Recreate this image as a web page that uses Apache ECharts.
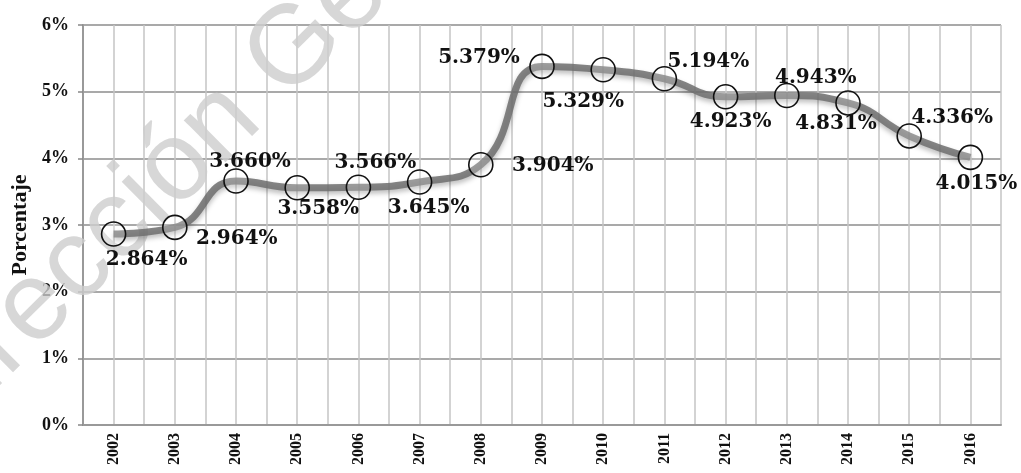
<!DOCTYPE html>
<html>
<head>
<meta charset="utf-8">
<script src="https://cdn.jsdelivr.net/npm/echarts@6/dist/echarts.min.js"></script>
<style>
  html, body { margin: 0; padding: 0; background: #fff; }
  #main { width: 1021px; height: 473px; }
</style>
</head>
<body>
<div id="main"></div>
<script>
// datos
const years = ['2002', '2003', '2004', '2005', '2006', '2007', '2008', '2009',
  '2010', '2011', '2012', '2013', '2014', '2015', '2016']
const porcentaje = [2.864, 2.964, 3.660, 3.558, 3.566, 3.645, 3.904, 5.379,
  5.329, 5.194, 4.923, 4.943, 4.831, 4.336, 4.015]
const yTicks = [0, 1, 2, 3, 4, 5, 6]

// desplazamiento de cada etiqueta respecto a su marcador
const labelOffsets = [
  [33, 26], [62, 11], [14, -19], [21, 21], [17, -24], [9, 26], [72, 1], [-63, -9],
  [-20, 32], [44, -17], [5, 25], [29, -18], [-12, 21], [43, -18], [6, 26]
]

const chart = echarts.init(document.getElementById('main'))

const seriesData = porcentaje.map(function (v, i) {
  return { value: v, label: { offset: labelOffsets[i] } }
})

const option = {
  backgroundColor: '#ffffff',
  animation: false,
  grid: { left: 83, right: 20, top: 25, bottom: 48 },
  graphic: [{
    type: 'text',
    z: 1,
    x: -50,
    y: 470,
    rotation: 0.78,
    style: {
      text: 'Dirección General',
      font: '112px "Liberation Sans", Arial, sans-serif',
      fill: 'rgba(205, 205, 205, 0.8)',
      textAlign: 'left',
      textVerticalAlign: 'bottom'
    }
  }],
  xAxis: [{
    type: 'category',
    data: years,
    boundaryGap: true,
    axisLine: { lineStyle: { color: '#999', width: 2 } },
    axisTick: { show: false },
    splitLine: { show: false },
    axisLabel: {
      rotate: 90,
      interval: 0,
      margin: 8,
      color: '#111',
      fontFamily: '"Liberation Serif", serif',
      fontWeight: 'bold',
      fontSize: 16
    }
  }, {
    // lineas verticales cada media categoria
    type: 'value',
    min: 0,
    max: years.length * 2,
    interval: 1,
    show: true,
    position: 'bottom',
    axisLine: { show: false },
    axisTick: { show: false },
    axisLabel: { show: false },
    splitLine: { show: true, lineStyle: { color: '#c4c4c4', width: 1.5 } }
  }],
  yAxis: {
    type: 'value',
    min: yTicks[0],
    max: yTicks[yTicks.length - 1],
    interval: 1,
    name: 'Porcentaje',
    nameLocation: 'middle',
    nameGap: 52,
    nameTextStyle: {
      color: '#111',
      fontFamily: '"Liberation Serif", serif',
      fontWeight: 'bold',
      fontSize: 22
    },
    axisLine: { show: true, lineStyle: { color: '#999', width: 2 } },
    axisTick: { show: true, length: 5, lineStyle: { color: '#888', width: 1.5 } },
    splitLine: { show: true, lineStyle: { color: '#8c8c8c', width: 1.5 } },
    axisLabel: {
      formatter: '{value}%',
      margin: 14,
      color: '#111',
      fontFamily: '"Liberation Serif", serif',
      fontWeight: 'bold',
      fontSize: 18
    }
  },
  series: [{
    type: 'line',
    xAxisIndex: 0,
    data: seriesData,
    smooth: 0.5,
    z: 3,
    symbol: 'circle',
    symbolSize: 24,
    lineStyle: {
      color: 'rgba(110, 110, 110, 0.85)',
      width: 7,
      shadowColor: 'rgba(0, 0, 0, 0.3)',
      shadowBlur: 5,
      shadowOffsetY: 3
    },
    itemStyle: {
      color: 'rgba(255, 255, 255, 0.2)',
      borderColor: '#111',
      borderWidth: 1.6
    },
    label: {
      show: true,
      position: 'inside',
      align: 'center',
      verticalAlign: 'middle',
      formatter: function (p) { return p.value.toFixed(3) + '%' },
      color: '#111',
      fontFamily: '"DejaVu Serif", serif',
      fontWeight: 'bold',
      fontSize: 20
    },
    emphasis: { disabled: true }
  }]
}

chart.setOption(option)
</script>
</body>
</html>
